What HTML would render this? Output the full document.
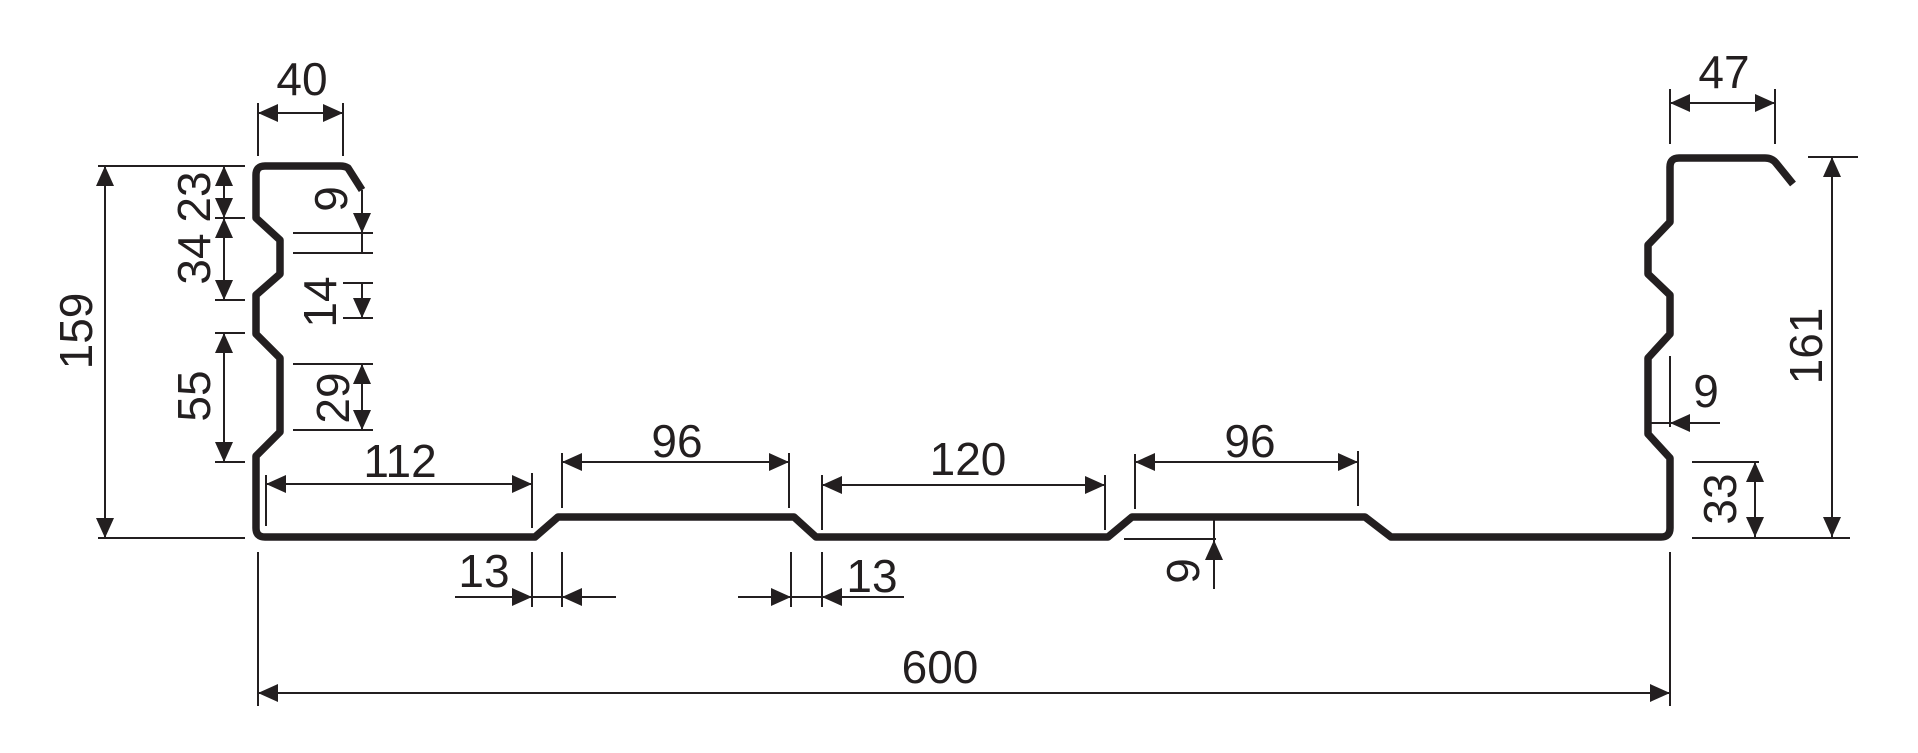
<!DOCTYPE html>
<html><head><meta charset="utf-8"><style>
html,body{margin:0;padding:0;background:#fff;}
svg{display:block;}
text{font-family:"Liberation Sans",Arial,sans-serif;font-size:46px;fill:#231f20;text-anchor:middle;dominant-baseline:central;}
</style></head><body>
<svg width="1918" height="753" viewBox="0 0 1918 753" xmlns="http://www.w3.org/2000/svg">
<defs>
<marker id="a" viewBox="0 0 20 20" refX="20" refY="10" markerWidth="20" markerHeight="20" markerUnits="userSpaceOnUse" orient="auto-start-reverse">
<path d="M0,1 L20,10 L0,19 z" fill="#231f20"/>
</marker>
</defs>
<path d="M362,190 L348,168 Q345,166 340,166 L265,166 Q256,166 256,175 L256,218 L280,240 L280,274 L256,295 L256,334 L280,358 L280,432 L256,456 L256,528 Q256,537 265,537 L535,537 L558,517 L794,517 L816,537 L1108,537 L1132,517 L1365,517 L1391,537 L1661,537 Q1670,537 1670,528 L1670,458 L1648,434 L1648,358 L1670,334 L1670,295 L1648,274 L1648,245 L1670,222 L1670,167 Q1670,158 1679,158 L1765,158 Q1772,158 1776,163 L1793,184" fill="none" stroke="#231f20" stroke-width="7.5" stroke-linejoin="round"/>
<g stroke="#231f20" stroke-width="2" fill="none">
<path d="M258,103V156 M343,103V156 M98,166H245 M98,538H245 M215,218H245 M215,300H245 M215,333H245 M215,462H245
M293,233H373 M293,253H373 M343,283H373 M343,318H373 M293,364H373 M293,430H373 M362,233V253
M266,475V526 M532,473V528 M532,552V607 M562,552V607 M562,453V508 M789,453V508 M791,552V607 M822,552V607 M822,475V530 M1105,475V530 M1135,454V509 M1358,451V506
M532,597H562 M791,597H822
M1124,539H1216 M1214,517V540
M258,552V706 M1670,552V706
M1670,89V144 M1775,89V144
M1808,157H1858 M1692,538H1850 M1692,462H1759
M1648,423H1670 M1670,356V427"/>
</g>
<g stroke="#231f20" stroke-width="2" fill="none" marker-end="url(#a)">
<path d="M258,113H343" marker-start="url(#a)"/>
<path d="M105,166V538" marker-start="url(#a)"/>
<path d="M224,166V218" marker-start="url(#a)"/>
<path d="M224,218V300" marker-start="url(#a)"/>
<path d="M224,333V462" marker-start="url(#a)"/>
<path d="M362,190V233"/>
<path d="M362,283V318"/>
<path d="M362,364V430" marker-start="url(#a)"/>
<path d="M266,484H532" marker-start="url(#a)"/>
<path d="M455,597H532"/>
<path d="M616,597H562"/>
<path d="M562,462H789" marker-start="url(#a)"/>
<path d="M738,597H791"/>
<path d="M904,597H822"/>
<path d="M822,485H1105" marker-start="url(#a)"/>
<path d="M1135,462H1358" marker-start="url(#a)"/>
<path d="M1214,589V540"/>
<path d="M258,693H1670" marker-start="url(#a)"/>
<path d="M1670,103H1775" marker-start="url(#a)"/>
<path d="M1832,157V537" marker-start="url(#a)"/>
<path d="M1755,462V537" marker-start="url(#a)"/>
<path d="M1720,423H1670"/>
</g>
<text x="302" y="79">40</text>
<text x="1724" y="72">47</text>
<text x="400" y="461">112</text>
<text x="677" y="441">96</text>
<text x="968" y="459">120</text>
<text x="1250" y="441">96</text>
<text x="484" y="571">13</text>
<text x="872" y="576">13</text>
<text x="940" y="667">600</text>
<text x="1706" y="391">9</text>
<text transform="translate(76,331) rotate(-90)">159</text>
<text transform="translate(194,197) rotate(-90)">23</text>
<text transform="translate(194,259) rotate(-90)">34</text>
<text transform="translate(194,396) rotate(-90)">55</text>
<text transform="translate(331,199) rotate(-90)">9</text>
<text transform="translate(320,302) rotate(-90)">14</text>
<text transform="translate(333,398) rotate(-90)">29</text>
<text transform="translate(1806,346) rotate(-90)">161</text>
<text transform="translate(1720,499) rotate(-90)">33</text>
<text transform="translate(1183,571) rotate(-90)">9</text>
</svg>
</body></html>
